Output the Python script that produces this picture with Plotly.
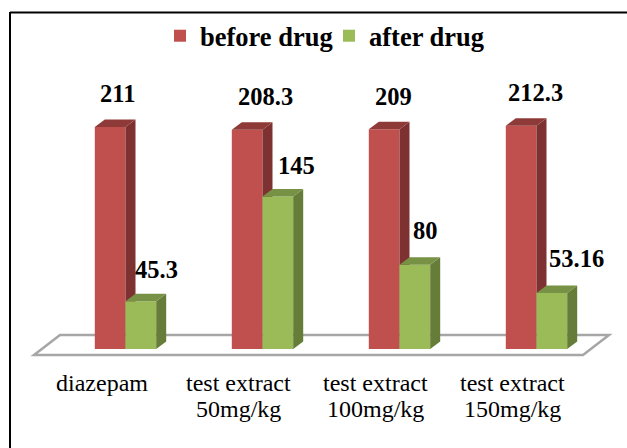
import plotly.graph_objects as go

cat_line1 = ["diazepam", "test extract", "test extract", "test extract"]
cat_line2 = ["", "50mg/kg", "100mg/kg", "150mg/kg"]
series_names = ["before drug", "after drug"]
before_drug = [211, 208.3, 209, 212.3]
after_drug = [45.3, 145, 80, 53.16]
before_labels = ["211", "208.3", "209", "212.3"]
after_labels = ["45.3", "145", "80", "53.16"]

W, H = 627, 448
PX_PER_CAT = 137.0
PX_PER_UNIT = 1.052
BASE_X = 125.5
BASE_Y = 349.0
BAR_W = 30.7 / PX_PER_CAT
DX = 10 / PX_PER_CAT
DY = 7.5 / PX_PER_UNIT
FONT = "Liberation Serif"

xr = [(0 - BASE_X) / PX_PER_CAT, (W - BASE_X) / PX_PER_CAT]
yr = [(BASE_Y - H) / PX_PER_UNIT, BASE_Y / PX_PER_UNIT]


def px(x):
    return (x - BASE_X) / PX_PER_CAT


def py(y):
    return (BASE_Y - y) / PX_PER_UNIT


fig = go.Figure()


def side_and_top(left, val, side, top, xa, ya):
    r = left + BAR_W
    fig.add_trace(go.Scatter(
        x=[r, r + DX, r + DX, r, r], y=[0, DY, val + DY, val, 0], xaxis=xa, yaxis=ya,
        mode="lines", fill="toself", fillcolor=side, line=dict(width=0),
        showlegend=False, hoverinfo="skip"))
    fig.add_trace(go.Scatter(
        x=[left, left + DX, r + DX, r, left], y=[val, val + DY, val + DY, val, val], xaxis=xa, yaxis=ya,
        mode="lines", fill="toself", fillcolor=top, line=dict(width=0),
        showlegend=False, hoverinfo="skip"))


fig.add_trace(go.Bar(x=[i - BAR_W / 2 for i in range(4)], y=before_drug, width=BAR_W,
                     marker=dict(color="#c0504d", line=dict(width=0)), name=series_names[0],
                     hoverinfo="skip", xaxis="x", yaxis="y"))
for i in range(4):
    side_and_top(i - BAR_W, before_drug[i], "#7d3231", "#8e3a38", "x", "y")

fig.add_trace(go.Bar(x=[i + BAR_W / 2 for i in range(4)], y=after_drug, width=BAR_W,
                     marker=dict(color="#9bbb59", line=dict(width=0)), name=series_names[1],
                     hoverinfo="skip", xaxis="x2", yaxis="y2"))
for i in range(4):
    side_and_top(i, after_drug[i], "#667c39", "#779145", "x2", "y2")

before_off = [(-8, -34), (2.5, -33), (-6, -33), (-1, -33)]
after_off = [(31, -32), (34, -31), (26, -34), (40, -35)]
ann = []
for i in range(4):
    ann.append(dict(x=i, y=before_drug[i], text=before_labels[i], showarrow=False,
                    xanchor="center", yanchor="middle", xshift=before_off[i][0], yshift=-before_off[i][1],
                    font=dict(family=FONT, size=24.5, color="black", weight=700)))
    ann.append(dict(x=i, y=after_drug[i], text=after_labels[i], showarrow=False,
                    xanchor="center", yanchor="middle", xshift=after_off[i][0], yshift=-after_off[i][1],
                    font=dict(family=FONT, size=24.5, color="black", weight=700)))
    for line, shift in ((cat_line1[i], -34), (cat_line2[i], -60)):
        if line:
            ann.append(dict(x=i, y=0, text=line, showarrow=False, xanchor="center", yanchor="middle",
                            xshift=-24, yshift=shift, font=dict(family=FONT, size=24, color="black")))

axis_style = dict(showgrid=False, zeroline=False, showline=False, ticks="",
                  showticklabels=False, fixedrange=True)

floor = "M {} {} L {} {} L {} {} L {} {} Z".format(px(34), py(355), px(60), py(335), px(609), py(335), px(583), py(355))

fig.update_layout(
    width=W, height=H, margin=dict(l=0, r=0, t=0, b=0),
    paper_bgcolor="white", plot_bgcolor="white", barmode="overlay",
    xaxis=dict(range=xr, **axis_style),
    yaxis=dict(range=yr, **axis_style),
    xaxis2=dict(range=xr, overlaying="x", **axis_style),
    yaxis2=dict(range=yr, overlaying="y", **axis_style),
    showlegend=True,
    legend=dict(orientation="h", x=160 / W, y=1 - 36 / H, xanchor="left", yanchor="middle",
                bgcolor="rgba(0,0,0,0)", font=dict(family=FONT, size=26.5, color="black", weight=700),
                itemwidth=30, traceorder="normal", entrywidthmode="pixels", entrywidth=124),
    annotations=ann,
    shapes=[
        dict(type="path", path=floor, xref="x", yref="y", line=dict(color="#a6a6a6", width=2.5),
             fillcolor="white", layer="below"),
        dict(type="line", xref="paper", yref="paper", x0=10 / W, x1=10 / W, y0=0, y1=1 - 12 / H,
             line=dict(color="black", width=2), layer="below"),
        dict(type="line", xref="paper", yref="paper", x0=10 / W, x1=1, y0=1 - 12.5 / H, y1=1 - 12.5 / H,
             line=dict(color="black", width=2), layer="below"),
    ],
)

fig.write_html("out.html", config=dict(displayModeBar=False),
               post_script="document.body.style.margin='0';document.body.style.overflow='hidden';")
